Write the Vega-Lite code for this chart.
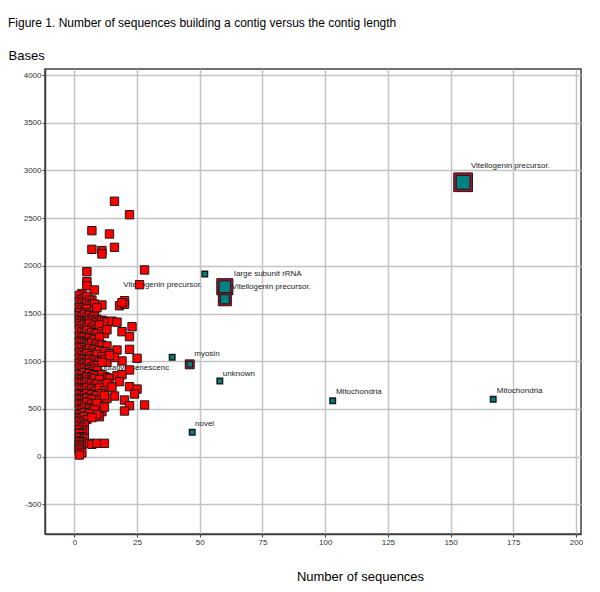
{
  "$schema": "https://vega.github.io/schema/vega-lite/v6.json",
  "width": 536,
  "height": 465,
  "autosize": {"type": "none"},
  "padding": {"left": 45, "top": 69, "right": 19, "bottom": 58},
  "background": "white",
  "title": {
    "text": "Figure 1. Number of sequences building a contig versus the contig length",
    "anchor": "start",
    "frame": "group",
    "dx": -37,
    "offset": 10,
    "baseline": "alphabetic",
    "font": "Liberation Sans",
    "fontSize": 12,
    "fontWeight": "normal",
    "color": "#000000"
  },
  "config": {
    "view": {"stroke": "#404040", "strokeWidth": 1.5},
    "axis": {
      "grid": true,
      "gridColor": "#c4c4c4",
      "gridWidth": 1.5,
      "domainColor": "#404040",
      "domainWidth": 1.5,
      "tickColor": "#404040",
      "tickSize": 3,
      "labelFont": "Liberation Sans",
      "labelFontSize": 8,
      "labelColor": "#333333",
      "labelPadding": 1,
      "labelExpr": "'' + datum.value",
      "titleFont": "Liberation Sans",
      "titleFontSize": 13,
      "titleFontWeight": "normal",
      "titleColor": "#000000"
    }
  },
  "datasets": {
    "contigs": [
      {"seqs":16,"bases":2677},{"seqs":22,"bases":2536},{"seqs":7,"bases":2369},{"seqs":14,"bases":2334},{"seqs":7,"bases":2173},{"seqs":11,"bases":2160},{"seqs":11,"bases":2125},{"seqs":16,"bases":2194},{"seqs":28,"bases":1957},{"seqs":26,"bases":1803},{"seqs":5,"bases":1939},{"seqs":5,"bases":1834},{"seqs":5,"bases":1790},{"seqs":8,"bases":1747},{"seqs":20,"bases":1635},{"seqs":18,"bases":1582},{"seqs":20,"bases":1598},{"seqs":19,"bases":1614},{"seqs":7,"bases":1642},{"seqs":3,"bases":1677},{"seqs":11,"bases":1590},{"seqs":3,"bases":1710},
      {"seqs":2,"bases":1690},{"seqs":3,"bases":1650},{"seqs":4,"bases":1660},{"seqs":5,"bases":1680},{"seqs":6,"bases":1640},{"seqs":2,"bases":1620},{"seqs":3,"bases":1600},{"seqs":4,"bases":1580},{"seqs":5,"bases":1610},{"seqs":6,"bases":1590},{"seqs":7,"bases":1570},{"seqs":8,"bases":1600},{"seqs":2,"bases":1560},{"seqs":3,"bases":1540},{"seqs":4,"bases":1520},{"seqs":5,"bases":1550},{"seqs":6,"bases":1510},{"seqs":8,"bases":1530},{"seqs":9,"bases":1560},{"seqs":2,"bases":1510},
      {"seqs":2,"bases":1480},{"seqs":3,"bases":1470},{"seqs":4,"bases":1490},{"seqs":5,"bases":1460},{"seqs":6,"bases":1480},{"seqs":7,"bases":1450},{"seqs":8,"bases":1470},{"seqs":9,"bases":1440},{"seqs":10,"bases":1420},{"seqs":11,"bases":1430},{"seqs":12,"bases":1420},{"seqs":13,"bases":1410},{"seqs":15,"bases":1420},{"seqs":17,"bases":1410},{"seqs":2,"bases":1430},{"seqs":3,"bases":1420},{"seqs":4,"bases":1410},{"seqs":5,"bases":1400},{"seqs":6,"bases":1430},{"seqs":7,"bases":1410},
      {"seqs":2,"bases":1390},{"seqs":3,"bases":1370},{"seqs":4,"bases":1380},{"seqs":5,"bases":1360},{"seqs":6,"bases":1390},{"seqs":7,"bases":1350},{"seqs":8,"bases":1370},{"seqs":9,"bases":1340},{"seqs":10,"bases":1380},{"seqs":23,"bases":1362},{"seqs":19,"bases":1310},{"seqs":22,"bases":1258},{"seqs":2,"bases":1330},{"seqs":3,"bases":1310},{"seqs":4,"bases":1300},{"seqs":5,"bases":1320},{"seqs":6,"bases":1280},{"seqs":7,"bases":1300},{"seqs":8,"bases":1270},{"seqs":9,"bases":1290},{"seqs":11,"bases":1310},{"seqs":12,"bases":1290},{"seqs":13,"bases":1330},{"seqs":2,"bases":1260},{"seqs":3,"bases":1240},{"seqs":4,"bases":1250},{"seqs":5,"bases":1220},{"seqs":6,"bases":1240},{"seqs":7,"bases":1210},{"seqs":8,"bases":1230},{"seqs":10,"bases":1250},{"seqs":2,"bases":1210},{"seqs":3,"bases":1200},{"seqs":4,"bases":1190},
      {"seqs":5,"bases":1180},{"seqs":6,"bases":1170},{"seqs":7,"bases":1190},{"seqs":8,"bases":1160},{"seqs":9,"bases":1180},{"seqs":10,"bases":1150},{"seqs":11,"bases":1170},{"seqs":13,"bases":1160},{"seqs":22,"bases":1125},{"seqs":17,"bases":1118},{"seqs":2,"bases":1150},{"seqs":3,"bases":1140},{"seqs":4,"bases":1120},{"seqs":5,"bases":1110},{"seqs":6,"bases":1130},{"seqs":7,"bases":1100},{"seqs":8,"bases":1120},{"seqs":9,"bases":1090},{"seqs":10,"bases":1110},{"seqs":12,"bases":1100},{"seqs":14,"bases":1080},{"seqs":2,"bases":1090},{"seqs":3,"bases":1070},{"seqs":4,"bases":1060},{"seqs":5,"bases":1080},{"seqs":6,"bases":1050},{"seqs":7,"bases":1060},{"seqs":8,"bases":1040},{"seqs":9,"bases":1070},{"seqs":11,"bases":1050},{"seqs":25,"bases":1031},{"seqs":19,"bases":1003},{"seqs":2,"bases":1030},{"seqs":3,"bases":1010},{"seqs":4,"bases":1020},{"seqs":5,"bases":1000},{"seqs":6,"bases":1020},{"seqs":7,"bases":990},{"seqs":8,"bases":1010},{"seqs":10,"bases":1000},{"seqs":12,"bases":1020},{"seqs":13,"bases":990},{"seqs":16,"bases":1040},{"seqs":14,"bases":1060},
      {"seqs":2,"bases":980},{"seqs":3,"bases":960},{"seqs":4,"bases":970},{"seqs":5,"bases":950},{"seqs":6,"bases":980},{"seqs":7,"bases":940},{"seqs":8,"bases":960},{"seqs":9,"bases":950},{"seqs":11,"bases":990},{"seqs":22,"bases":909},{"seqs":2,"bases":930},{"seqs":3,"bases":910},{"seqs":4,"bases":920},{"seqs":5,"bases":900},{"seqs":6,"bases":910},{"seqs":7,"bases":890},{"seqs":8,"bases":920},{"seqs":9,"bases":900},{"seqs":12,"bases":840},{"seqs":2,"bases":870},{"seqs":3,"bases":860},{"seqs":4,"bases":880},{"seqs":5,"bases":850},{"seqs":6,"bases":870},{"seqs":7,"bases":840},{"seqs":8,"bases":860},{"seqs":9,"bases":850},{"seqs":11,"bases":860},{"seqs":13,"bases":830},{"seqs":2,"bases":820},{"seqs":3,"bases":810},{"seqs":4,"bases":800},{"seqs":5,"bases":830},{"seqs":6,"bases":810},{"seqs":7,"bases":800},{"seqs":8,"bases":820},{"seqs":10,"bases":810},{"seqs":14,"bases":820},{"seqs":17,"bases":850},{"seqs":19,"bases":860},
      {"seqs":18,"bases":786},{"seqs":2,"bases":780},{"seqs":3,"bases":770},{"seqs":4,"bases":760},{"seqs":5,"bases":780},{"seqs":6,"bases":750},{"seqs":7,"bases":770},{"seqs":8,"bases":740},{"seqs":9,"bases":760},{"seqs":11,"bases":750},{"seqs":13,"bases":770},{"seqs":22,"bases":734},{"seqs":25,"bases":709},{"seqs":24,"bases":657},{"seqs":2,"bases":720},{"seqs":3,"bases":710},{"seqs":4,"bases":700},{"seqs":5,"bases":720},{"seqs":6,"bases":690},{"seqs":7,"bases":710},{"seqs":8,"bases":680},{"seqs":9,"bases":700},{"seqs":10,"bases":720},{"seqs":12,"bases":690},{"seqs":15,"bases":730},{"seqs":2,"bases":660},{"seqs":3,"bases":650},{"seqs":4,"bases":640},{"seqs":5,"bases":660},{"seqs":6,"bases":630},{"seqs":7,"bases":650},{"seqs":8,"bases":620},{"seqs":9,"bases":640},{"seqs":11,"bases":660},{"seqs":16,"bases":636},{"seqs":2,"bases":610},{"seqs":3,"bases":600},{"seqs":4,"bases":590},{"seqs":5,"bases":610},{"seqs":6,"bases":580},{"seqs":7,"bases":600},{"seqs":10,"bases":590},{"seqs":13,"bases":610},{"seqs":20,"bases":594},{"seqs":12,"bases":640},
      {"seqs":22,"bases":535},{"seqs":28,"bases":542},{"seqs":20,"bases":479},{"seqs":11,"bases":472},{"seqs":10,"bases":419},{"seqs":2,"bases":560},{"seqs":3,"bases":550},{"seqs":4,"bases":540},{"seqs":5,"bases":570},{"seqs":6,"bases":530},{"seqs":7,"bases":550},{"seqs":8,"bases":520},{"seqs":9,"bases":560},{"seqs":2,"bases":500},{"seqs":3,"bases":490},{"seqs":4,"bases":510},{"seqs":5,"bases":480},{"seqs":6,"bases":500},{"seqs":7,"bases":470},{"seqs":8,"bases":490},{"seqs":12,"bases":520},{"seqs":2,"bases":450},{"seqs":3,"bases":440},{"seqs":4,"bases":460},{"seqs":5,"bases":430},{"seqs":6,"bases":450},{"seqs":9,"bases":440},{"seqs":2,"bases":410},{"seqs":3,"bases":400},{"seqs":4,"bases":420},{"seqs":5,"bases":390},{"seqs":7,"bases":410},
      {"seqs":2,"bases":370},{"seqs":3,"bases":350},{"seqs":4,"bases":330},{"seqs":2,"bases":320},{"seqs":3,"bases":300},{"seqs":2,"bases":280},{"seqs":4,"bases":270},{"seqs":3,"bases":250},{"seqs":2,"bases":240},{"seqs":3,"bases":210},{"seqs":2,"bases":200},{"seqs":4,"bases":190},{"seqs":2,"bases":170},{"seqs":3,"bases":160},{"seqs":2,"bases":150},{"seqs":3,"bases":130},{"seqs":6,"bases":140},{"seqs":7,"bases":130},{"seqs":9,"bases":140},{"seqs":12,"bases":140},{"seqs":2,"bases":120},{"seqs":2,"bases":100},{"seqs":2,"bases":80},{"seqs":2,"bases":60},{"seqs":3,"bases":40},{"seqs":2,"bases":18}
    ],
    "annotated": [
      {"seqs":52,"bases":1915},{"seqs":39,"bases":1042},{"seqs":58,"bases":793},{"seqs":47,"bases":256},{"seqs":103,"bases":587},{"seqs":167,"bases":601}
    ],
    "multiple": [
      {"seqs":155,"bases":2876,"contigs":4},{"seqs":60,"bases":1781,"contigs":3},{"seqs":60,"bases":1650,"contigs":2},{"seqs":46,"bases":968,"contigs":1}
    ],
    "labels": [
      {"label":"Vitellogenin precursor.","seqs":158.1,"bases":3025},
      {"label":"large subunit rRNA","seqs":63.7,"bases":1894},
      {"label":"Vitellogenin precursor.","seqs":62.8,"bases":1754},
      {"label":"myosin","seqs":47.8,"bases":1055},
      {"label":"unknown","seqs":59.2,"bases":849},
      {"label":"novel","seqs":48.1,"bases":325},
      {"label":"Mitochondria","seqs":104.3,"bases":657},
      {"label":"Mitochondria","seqs":168.4,"bases":664},
      {"label":"Vitellogenin precursor.","seqs":19.5,"bases":1782},
      {"label":"putative senescenc","seqs":10.5,"bases":905}
    ]
  },
  "encoding": {
    "x": {
      "field": "seqs", "type": "quantitative",
      "scale": {"domain": [-11.7, 202], "nice": false, "zero": false},
      "axis": {
        "values": [0, 25, 50, 75, 100, 125, 150, 175, 200],
        "title": "Number of sequences",
        "titleX": 315, "titleY": 46, "titleAlign": "center", "titleBaseline": "alphabetic"
      }
    },
    "y": {
      "field": "bases", "type": "quantitative",
      "scale": {"domain": [-810, 4063], "nice": false, "zero": false},
      "axis": {
        "values": [-500, 0, 500, 1000, 1500, 2000, 2500, 3000, 3500, 4000],
        "title": "Bases",
        "titleAngle": 0, "titleX": -37, "titleY": -10, "titleAlign": "left", "titleBaseline": "alphabetic"
      }
    }
  },
  "layer": [
    {
      "data": {"name": "labels"},
      "mark": {"type": "text", "align": "left", "baseline": "alphabetic", "font": "Liberation Sans", "fontSize": 8, "color": "#222222"},
      "encoding": {"text": {"field": "label"}}
    },
    {
      "data": {"name": "contigs"},
      "mark": {"type": "square", "size": 70, "fill": "#ff0000", "fillOpacity": 1, "stroke": "#1a1a1a", "strokeWidth": 1}
    },
    {
      "data": {"name": "annotated"},
      "mark": {"type": "square", "size": 30, "fill": "#008080", "fillOpacity": 1, "stroke": "#1a1a1a", "strokeWidth": 1.5}
    },
    {
      "data": {"name": "multiple"},
      "mark": {"type": "square", "fill": "#b0102c", "fillOpacity": 1, "stroke": "#1a1a1a", "strokeWidth": 1},
      "encoding": {
        "size": {"field": "contigs", "type": "quantitative", "scale": {"type": "linear", "domain": [1, 4], "range": [80, 350]}, "legend": null}
      }
    },
    {
      "data": {"name": "multiple"},
      "mark": {"type": "square", "fill": "#008080", "fillOpacity": 1, "stroke": "#1a1a1a", "strokeWidth": 1},
      "encoding": {
        "size": {"field": "contigs", "type": "quantitative", "scale": {"type": "linear", "domain": [1, 4], "range": [30, 190]}, "legend": null}
      }
    }
  ],
  "resolve": {"scale": {"size": "independent"}}
}
